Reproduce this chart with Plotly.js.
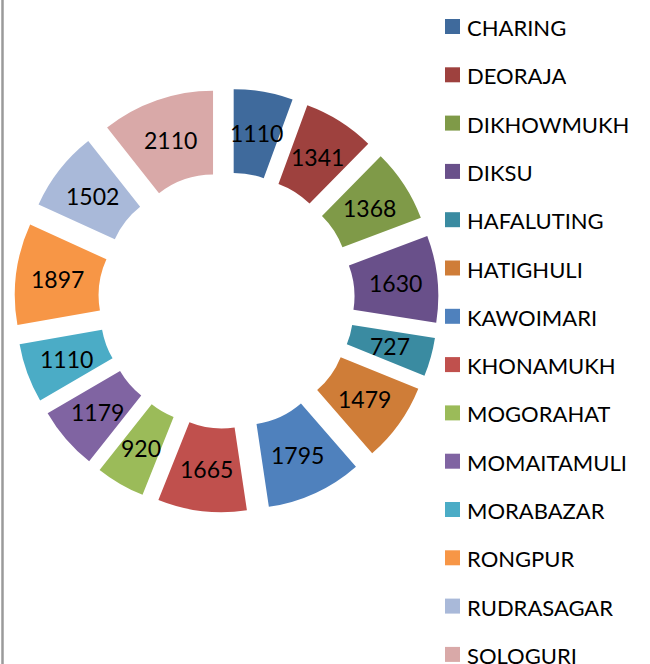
<!DOCTYPE html>
<html>
<head>
<meta charset="utf-8">
<script src="https://cdn.plot.ly/plotly-3.0.1.min.js"></script>
<style>
  html, body { margin: 0; padding: 0; background: #ffffff; }
  #chart { width: 650px; height: 664px; }
</style>
</head>
<body>
<div id="chart"></div>
<script>
// ---- data ----
var categories = ["CHARING", "DEORAJA", "DIKHOWMUKH", "DIKSU", "HAFALUTING", "HATIGHULI",
  "KAWOIMARI", "KHONAMUKH", "MOGORAHAT", "MOMAITAMULI", "MORABAZAR", "RONGPUR",
  "RUDRASAGAR", "SOLOGURI"];
var values = [1110, 1341, 1368, 1630, 727, 1479, 1795, 1665, 920, 1179, 1110, 1897, 1502, 2110];
var colors = ["#3F6A9C", "#9E413E", "#7F9A48", "#69508A", "#3A8BA1", "#CF7D38",
  "#4F81BD", "#C0504D", "#9BBB59", "#8064A2", "#4BACC6", "#F79646",
  "#A9B9D9", "#D9A9A8"];

var W = 650, H = 664;
var HOLE = 0.51, PULL = 0.24;
var fontFam = "Lato, 'Open Sans', 'DejaVu Sans', sans-serif";

var trace = {
  type: "pie",
  labels: categories,
  values: values,
  sort: false,
  direction: "clockwise",
  rotation: 0,
  hole: HOLE,
  pull: PULL,
  marker: { colors: colors, line: { width: 0 } },
  textinfo: "none",
  textposition: "none",
  hoverinfo: "label+value",
  showlegend: false,
  domain: { x: [14.5 / W, 438.5 / W], y: [(664 - 512.5) / H, (664 - 88.5) / H] }
};

// custom legend built from categories/colors
var shapes = [];
var legendAnns = [];
for (var i = 0; i < categories.length; i++) {
  var cy = 26.5 + 48.3 * i;
  shapes.push({
    type: "rect", xref: "paper", yref: "paper",
    x0: 445 / W, x1: 460 / W, y0: 1 - (cy + 7.5) / H, y1: 1 - (cy - 7.5) / H,
    fillcolor: colors[i], line: { width: 0 }
  });
  legendAnns.push({
    xref: "paper", yref: "paper", x: 465 / W, y: 1 - (cy + 0.5) / H,
    xanchor: "left", yanchor: "middle", showarrow: false,
    height: 22, valign: "middle",
    text: categories[i],
    font: { family: fontFam, size: 22, color: "#000000" }
  });
}
// chart border on left edge
shapes.push({
  type: "line", xref: "paper", yref: "paper",
  x0: 2.5 / W, x1: 2.5 / W, y0: 0, y1: 1,
  line: { color: "#9A9A9A", width: 2.5 }
});

var layout = {
  width: W, height: H,
  margin: { l: 0, r: 0, t: 0, b: 0 },
  paper_bgcolor: "#ffffff",
  showlegend: false,
  shapes: shapes,
  annotations: legendAnns,
  font: { family: fontFam }
};

Plotly.newPlot("chart", [trace], layout, { displayModeBar: false, staticPlot: true }).then(function (gd) {
  // value labels centred in each (pulled) ring slice, using Plotly's own pie geometry
  var cd = gd.calcdata[0];
  var cd0 = cd[0];
  var cx = cd0.cx, cyc = cd0.cy;
  var k = PULL + (1 + HOLE) / 2;
  var valueAnns = cd.map(function (pt) {
    var px = cx + pt.pxmid[0] * k;
    var py = cyc + pt.pxmid[1] * k;
    return {
      xref: "paper", yref: "paper", x: px / W, y: 1 - py / H,
      xanchor: "center", yanchor: "middle", showarrow: false,
      text: String(values[pt.i]),
      font: { family: fontFam, size: 23, color: "#000000" }
    };
  });
  return Plotly.relayout(gd, { annotations: legendAnns.concat(valueAnns) });
});
</script>
</body>
</html>
